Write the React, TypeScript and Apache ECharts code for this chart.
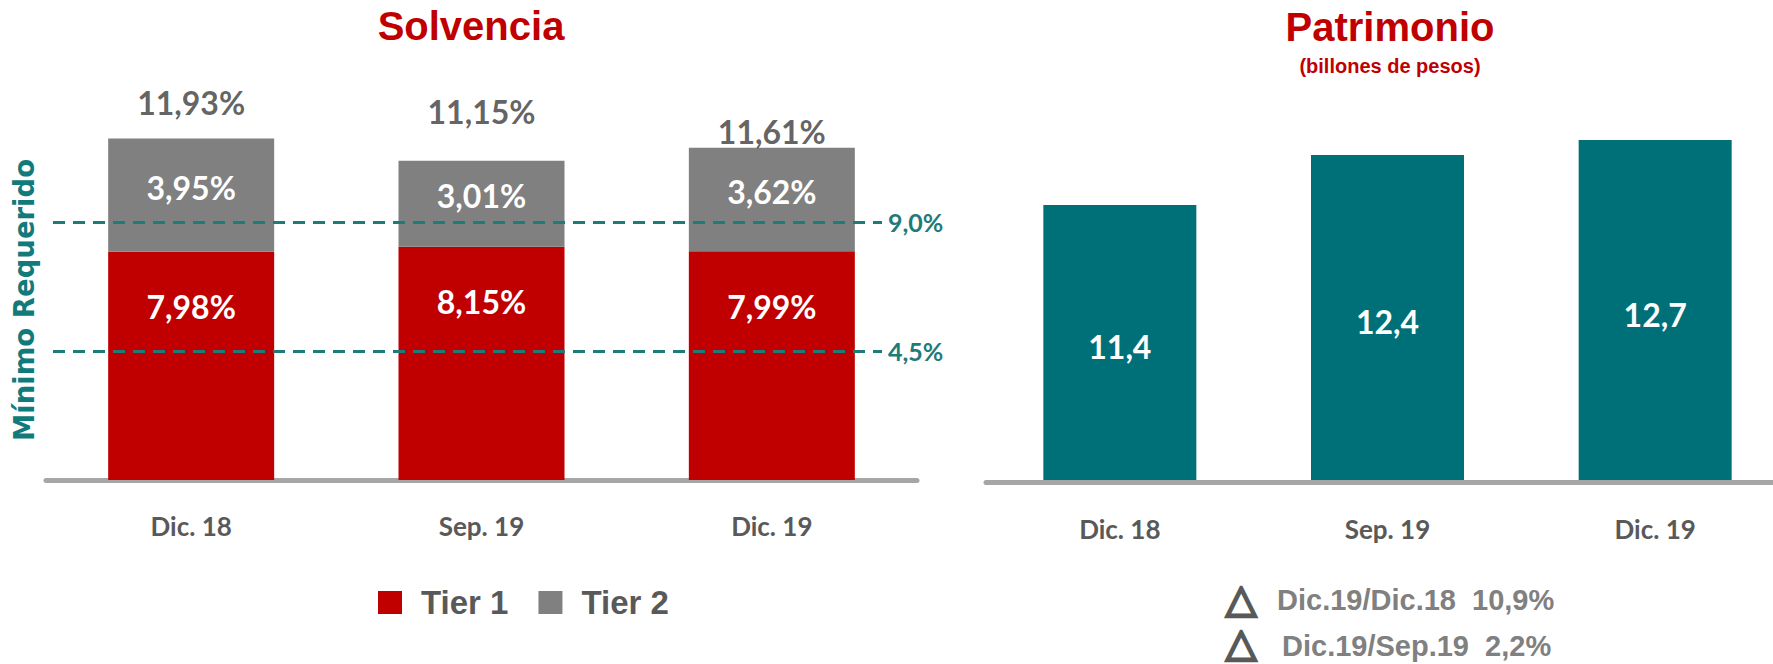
import React, { useEffect, useRef } from "react";
import * as echarts from "echarts";

// ---- data ----
const categories = ["Dic. 18", "Sep. 19", "Dic. 19"];
const tier1 = [7.98, 8.15, 7.99];
const tier2 = [3.95, 3.01, 3.62];
const totals = [11.93, 11.15, 11.61];
const minimums = [9.0, 4.5];
const patrimonio = [11.4, 12.4, 12.7];
const deltaLabels = ["Dic.19/Dic.18", "Dic.19/Sep.19"];
const deltaValues = [10.9, 2.2];

// ---- styles ----
const RED = "#C00000";
const GRAY = "#808080";
const TEAL = "#007078";
const LINE_TEAL = "#1F7A7A";
const totalLabelGap = [20, 33, 0];

const pct = (v: number, d = 2) => (v == null ? "" : Number(v).toFixed(d).replace(".", ",") + "%");
const num = (v: number, d = 1) => (v == null ? "" : Number(v).toFixed(d).replace(".", ","));

export default function App() {
  const ref = useRef<HTMLDivElement>(null);
  useEffect(() => {
    if (!ref.current) return;
    const chart = echarts.init(ref.current, undefined, { renderer: "svg" });
    const labelFont = { fontFamily: "Lato", fontWeight: "bold" as const, fontSize: 32 };
    const totalLabel = {
      show: true,
      position: "top",
      color: "#3A3A3A",
      fontFamily: "Lato",
      fontWeight: "bold",
      fontSize: 32,
      formatter: (p: any) => pct(p.value),
    };
    const option: any = {
      animation: false,
      backgroundColor: "#ffffff",
      grid: [
        { left: 46, width: 871, top: 108, bottom: 184, outerBoundsMode: "none" },
        { left: 986, width: 803, top: 100, bottom: 184, outerBoundsMode: "none" },
      ],
      legend: {
        data: ["Tier 1", "Tier 2"],
        left: 373,
        top: 581,
        icon: "rect",
        itemWidth: 24,
        itemHeight: 23,
        itemGap: 30,
        textStyle: {
          fontFamily: "Liberation Sans",
          fontWeight: "bold",
          fontSize: 33,
          color: "#595959",
          padding: [0, 0, 0, 14],
        },
      },
      xAxis: [
        {
          type: "category",
          gridIndex: 0,
          data: categories,
          offset: 2,
          axisTick: { show: false },
          axisLine: { lineStyle: { color: "#A6A6A6", width: 5 } },
          axisLabel: { margin: 31, color: "#595959", fontFamily: "Lato", fontWeight: "bold", fontSize: 26 },
        },
        {
          type: "category",
          gridIndex: 1,
          data: categories,
          offset: 2,
          axisTick: { show: false },
          axisLine: { onZero: false, lineStyle: { color: "#A6A6A6", width: 5 } },
          axisLabel: { margin: 34, color: "#595959", fontFamily: "Lato", fontWeight: "bold", fontSize: 26 },
        },
      ],
      yAxis: [
        {
          type: "value",
          gridIndex: 0,
          min: 0,
          max: 13,
          axisLine: { show: false },
          axisTick: { show: false },
          axisLabel: { show: false },
          splitLine: { show: false },
          name: "Mínimo Requerido",
          nameLocation: "middle",
          nameRotate: 90,
          nameGap: 8,
          nameTextStyle: {
            color: "#117A7A",
            fontFamily: "DejaVu Sans",
            fontWeight: "bold",
            fontSize: 27.5,
            padding: [0, 12, 0, 0],
          },
        },
        {
          type: "value",
          gridIndex: 1,
          min: 5.9,
          max: 13.5,
          show: false,
          splitLine: { show: false },
        },
      ],
      series: [
        {
          name: "Tier 1",
          type: "bar",
          stack: "solv",
          xAxisIndex: 0,
          yAxisIndex: 0,
          barWidth: 166,
          data: tier1,
          itemStyle: { color: RED },
          label: {
            show: true,
            position: "insideTop",
            distance: 39,
            color: "#ffffff",
            ...labelFont,
            formatter: (p: any) => pct(p.value),
          },
          markLine: {
            silent: true,
            symbol: "none",
            lineStyle: { color: LINE_TEAL, width: 3, type: [12, 8] },
            label: {
              show: true,
              position: "end",
              distance: 6,
              color: LINE_TEAL,
              fontFamily: "Lato",
              fontWeight: "bold",
              fontSize: 25,
              padding: [0, 0, 18, 0],
            },
            data: minimums.map((m) => [
              { yAxis: m, x: 53, value: m, label: { formatter: pct(m, 1) } },
              { yAxis: m, x: 882, value: m },
            ]),
          },
        },
        {
          name: "Tier 2",
          type: "bar",
          stack: "solv",
          xAxisIndex: 0,
          yAxisIndex: 0,
          barWidth: 166,
          data: tier2,
          itemStyle: { color: GRAY },
          label: {
            show: true,
            position: "inside",
            offset: [0, -8],
            color: "#ffffff",
            ...labelFont,
            formatter: (p: any) => pct(p.value),
          },
        },
        {
          name: "Total",
          type: "scatter",
          xAxisIndex: 0,
          yAxisIndex: 0,
          symbolSize: 0,
          data: totals.map((v, i) => ({
            value: v,
            label: { ...totalLabel, distance: totalLabelGap[i] },
          })),
          label: totalLabel,
        },
        {
          name: "Patrimonio",
          type: "bar",
          xAxisIndex: 1,
          yAxisIndex: 1,
          barWidth: 153,
          data: patrimonio,
          itemStyle: { color: TEAL },
          label: {
            show: true,
            position: "inside",
            offset: [0, 4],
            color: "#ffffff",
            ...labelFont,
            formatter: (p: any) => num(p.value),
          },
        },
      ],
      graphic: [
        {
          type: "text",
          x: 471,
          y: 26,
          style: {
            text: "Solvencia",
            fill: RED,
            font: "bold 40px 'Liberation Sans'",
            textAlign: "center",
            textVerticalAlign: "middle",
          },
        },
        {
          type: "text",
          x: 1390,
          y: 27,
          style: {
            text: "Patrimonio",
            fill: RED,
            font: "bold 40px 'Liberation Sans'",
            textAlign: "center",
            textVerticalAlign: "middle",
          },
        },
        {
          type: "text",
          x: 1390,
          y: 66,
          style: {
            text: "(billones de pesos)",
            fill: RED,
            font: "bold 20px 'Liberation Sans'",
            textAlign: "center",
            textVerticalAlign: "middle",
          },
        },
        ...deltaLabels.flatMap((lab, i) => [
          {
            type: "text",
            x: 1241,
            y: i === 0 ? 598 : 642,
            style: {
              text: "△",
              fill: "#595959",
              stroke: "#595959",
              lineWidth: 2.5,
              font: "40px 'DejaVu Sans'",
              textAlign: "center",
              textVerticalAlign: "middle",
            },
          },
          {
            type: "text",
            x: 1277 + i * 5,
            y: 600 + i * 46,
            style: {
              text: `${lab}  ${pct(deltaValues[i], 1)}`,
              fill: "#808080",
              font: "bold 29px 'Liberation Sans'",
              textAlign: "left",
              textVerticalAlign: "middle",
            },
          },
        ]),
      ],
    };
    chart.setOption(option);
    return () => chart.dispose();
  }, []);
  return (
    <div
      ref={ref}
      style={{ position: "fixed", left: 0, top: 0, width: 1773, height: 664 }}
    />
  );
}
